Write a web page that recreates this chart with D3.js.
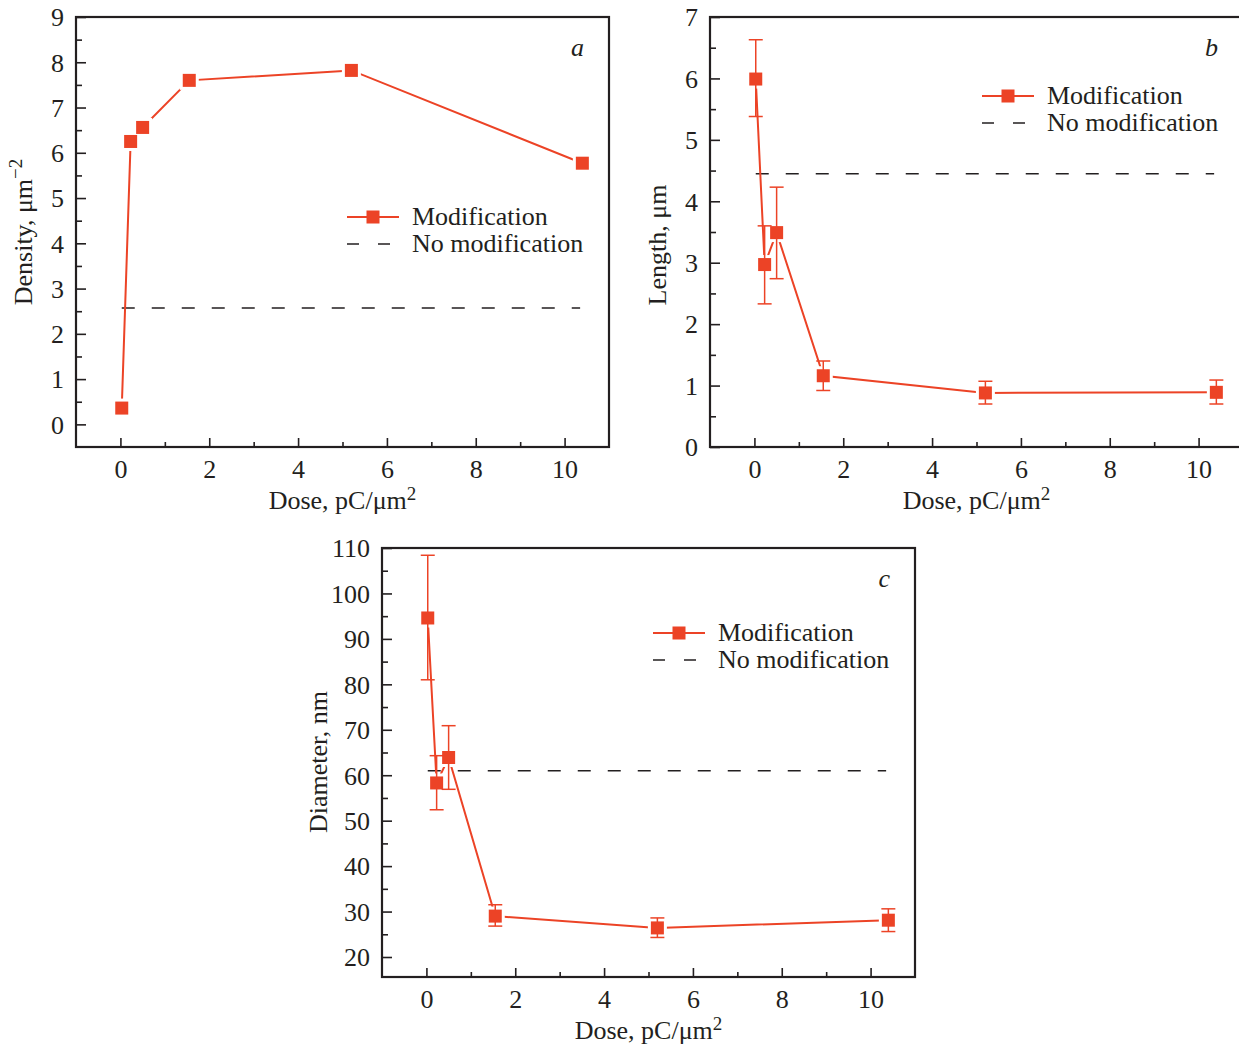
<!DOCTYPE html>
<html>
<head>
<meta charset="utf-8">
<script src="https://cdn.jsdelivr.net/npm/d3@7"></script>
<style>
  body { margin: 0; background: #fff; }
  svg { display: block; }
  text { font-family: "Liberation Serif", "Times New Roman", serif; fill: #231f20; }
</style>
</head>
<body>
<svg id="fig" width="1239" height="1046"></svg>
<script>
// values
var doses = [0.03, 0.23, 0.5, 1.55, 5.2, 10.4];

var densityVals = [0.36, 6.25, 6.56, 7.6, 7.82, 5.77];
var densityRef = 2.57;

var lengthVals = [5.99, 2.97, 3.49, 1.16, 0.88, 0.89];
var lengthLo = [5.38, 2.33, 2.74, 0.92, 0.70, 0.70];
var lengthHi = [6.63, 3.60, 4.23, 1.40, 1.07, 1.09];
var lengthRef = 4.45;

var diameterVals = [94.6, 58.3, 63.9, 29.0, 26.4, 28.1];
var diameterLo = [81.0, 52.4, 56.9, 26.8, 24.3, 25.6];
var diameterHi = [108.4, 64.3, 70.9, 31.5, 28.6, 30.6];
var diameterRef = 61.0;

var refRange = [0.03, 10.35];
var xTicks = [0, 2, 4, 6, 8, 10];
var xMinor = [1, 3, 5, 7, 9];

var legendLabels = ["Modification", "No modification"];

var red = "#ec4326";
var ink = "#231f20";
var fontSize = 26;

var svg = d3.select("#fig");

function drawPanel(opt) {
  var g = svg.append("g")
      .attr("transform", "translate(" + opt.left + "," + opt.top + ")");
  var w = opt.width, h = opt.height;

  var x = d3.scaleLinear().domain([-1, 11]).range([0, w]);
  var y = d3.scaleLinear().domain(opt.yDomain).range([h, 0]);

  // axes, ticks pointing inward
  var xAxis = g.append("g")
      .attr("transform", "translate(0," + h + ")")
      .call(d3.axisBottom(x).tickValues(xTicks).tickFormat(d3.format("d"))
          .tickSize(-9).tickPadding(13));
  var xAxisMinor = g.append("g")
      .attr("transform", "translate(0," + h + ")")
      .call(d3.axisBottom(x).tickValues(xMinor).tickSize(-5).tickFormat(""));
  var yAxis = g.append("g")
      .call(d3.axisLeft(y).tickValues(opt.yTicks).tickFormat(d3.format("d"))
          .tickSize(-10).tickPadding(12));
  var yAxisMinor = g.append("g")
      .call(d3.axisLeft(y).tickValues(opt.yMinor).tickSize(-6).tickFormat(""));

  [xAxis, xAxisMinor, yAxis, yAxisMinor].forEach(function(a) {
    a.select(".domain").remove();
    a.selectAll(".tick line").attr("stroke", ink).attr("stroke-width", 1.6);
    a.selectAll(".tick text")
        .attr("font-family", "Liberation Serif, serif")
        .attr("font-size", fontSize)
        .attr("fill", ink);
  });
  yAxis.selectAll(".tick text").attr("dy", "0.34em");

  // frame
  g.append("rect")
      .attr("width", w)
      .attr("height", h)
      .attr("fill", "none")
      .attr("stroke", ink)
      .attr("stroke-width", 2.2);

  // reference (no modification) level
  g.append("line")
      .attr("x1", x(refRange[0]))
      .attr("x2", x(refRange[1]))
      .attr("y1", y(opt.ref))
      .attr("y2", y(opt.ref))
      .attr("stroke", ink)
      .attr("stroke-width", 1.5)
      .attr("stroke-dasharray", "13,17");

  var pts = doses.map(function(d, i) {
    return { x: d, y: opt.values[i],
             lo: opt.lo ? opt.lo[i] : null,
             hi: opt.hi ? opt.hi[i] : null };
  });

  g.append("path")
      .datum(pts)
      .attr("fill", "none")
      .attr("stroke", red)
      .attr("stroke-width", 2)
      .attr("d", d3.line()
          .x(function(d) { return x(d.x); })
          .y(function(d) { return y(d.y); }));

  var sq = 13;
  // white halo so the line stops short of each marker
  g.selectAll("rect.halo")
      .data(pts)
    .enter().append("rect")
      .attr("class", "halo")
      .attr("x", function(d) { return x(d.x) - sq / 2 - 3; })
      .attr("y", function(d) { return y(d.y) - sq / 2 - 3; })
      .attr("width", sq + 6)
      .attr("height", sq + 6)
      .attr("fill", "#fff");

  if (opt.lo) {
    var eb = g.selectAll("g.errbar")
        .data(pts)
      .enter().append("g")
        .attr("class", "errbar")
        .attr("stroke", red)
        .attr("stroke-width", 1.5);
    eb.append("line")
        .attr("x1", function(d) { return x(d.x); })
        .attr("x2", function(d) { return x(d.x); })
        .attr("y1", function(d) { return y(d.lo); })
        .attr("y2", function(d) { return y(d.hi); });
    eb.append("line")
        .attr("x1", function(d) { return x(d.x) - 7; })
        .attr("x2", function(d) { return x(d.x) + 7; })
        .attr("y1", function(d) { return y(d.lo); })
        .attr("y2", function(d) { return y(d.lo); });
    eb.append("line")
        .attr("x1", function(d) { return x(d.x) - 7; })
        .attr("x2", function(d) { return x(d.x) + 7; })
        .attr("y1", function(d) { return y(d.hi); })
        .attr("y2", function(d) { return y(d.hi); });
  }

  g.selectAll("rect.marker")
      .data(pts)
    .enter().append("rect")
      .attr("class", "marker")
      .attr("x", function(d) { return x(d.x) - sq / 2; })
      .attr("y", function(d) { return y(d.y) - sq / 2; })
      .attr("width", sq)
      .attr("height", sq)
      .attr("fill", red);

  // legend
  var lg = g.append("g")
      .attr("transform", "translate(" + opt.legend[0] + "," + opt.legend[1] + ")");
  lg.append("line").attr("x1", 0).attr("x2", 23).attr("y1", 0).attr("y2", 0)
      .attr("stroke", red).attr("stroke-width", 2);
  lg.append("line").attr("x1", 30).attr("x2", 52).attr("y1", 0).attr("y2", 0)
      .attr("stroke", red).attr("stroke-width", 2);
  lg.append("rect").attr("x", 26 - sq / 2).attr("y", -sq / 2)
      .attr("width", sq).attr("height", sq).attr("fill", red);
  lg.append("line").attr("x1", 0).attr("x2", 44).attr("y1", 27).attr("y2", 27)
      .attr("stroke", ink).attr("stroke-width", 1.5)
      .attr("stroke-dasharray", "12,19");
  lg.selectAll("text.leg")
      .data(legendLabels)
    .enter().append("text")
      .attr("class", "leg")
      .attr("x", 65)
      .attr("y", function(d, i) { return 8 + i * 27; })
      .attr("font-size", fontSize)
      .text(function(d) { return d; });

  // panel letter
  g.append("text")
      .attr("x", 508)
      .attr("y", 39)
      .attr("text-anchor", "end")
      .attr("font-size", fontSize)
      .attr("font-style", "italic")
      .text(opt.letter);

  // x label
  var xl = g.append("text")
      .attr("x", w / 2)
      .attr("y", h + 62)
      .attr("text-anchor", "middle")
      .attr("font-size", fontSize);
  xl.append("tspan").text("Dose, pC/\u03bcm");
  xl.append("tspan").attr("font-size", 19).attr("dy", -9).text("2");

  // y label
  var yl = g.append("text")
      .attr("transform", "translate(" + opt.yLabelX + "," + opt.yLabelY + ") rotate(-90)")
      .attr("text-anchor", "middle")
      .attr("font-size", fontSize);
  yl.append("tspan").text(opt.yLabel);
  if (opt.yLabelSup) {
    yl.append("tspan").attr("font-size", 19).attr("dy", -10).text(opt.yLabelSup);
  }
}

drawPanel({
  left: 76, top: 17, width: 533, height: 430,
  yDomain: [-0.5, 9],
  yTicks: d3.range(0, 10, 1),
  yMinor: d3.range(0.5, 9, 1),
  values: densityVals,
  ref: densityRef,
  legend: [271, 200],
  letter: "a",
  yLabel: "Density, \u03bcm",
  yLabelSup: "\u22122",
  yLabelX: -44, yLabelY: 215
});

drawPanel({
  left: 710, top: 17, width: 533, height: 430,
  yDomain: [0, 7],
  yTicks: d3.range(0, 8, 1),
  yMinor: d3.range(0.5, 7, 1),
  values: lengthVals, lo: lengthLo, hi: lengthHi,
  ref: lengthRef,
  legend: [272, 79],
  letter: "b",
  yLabel: "Length, \u03bcm",
  yLabelX: -44, yLabelY: 228
});

drawPanel({
  left: 382, top: 548, width: 533, height: 429,
  yDomain: [15.6, 110],
  yTicks: d3.range(20, 111, 10),
  yMinor: d3.range(25, 110, 10),
  values: diameterVals, lo: diameterLo, hi: diameterHi,
  ref: diameterRef,
  legend: [271, 85],
  letter: "c",
  yLabel: "Diameter, nm",
  yLabelX: -55, yLabelY: 214
});
</script>
</body>
</html>
